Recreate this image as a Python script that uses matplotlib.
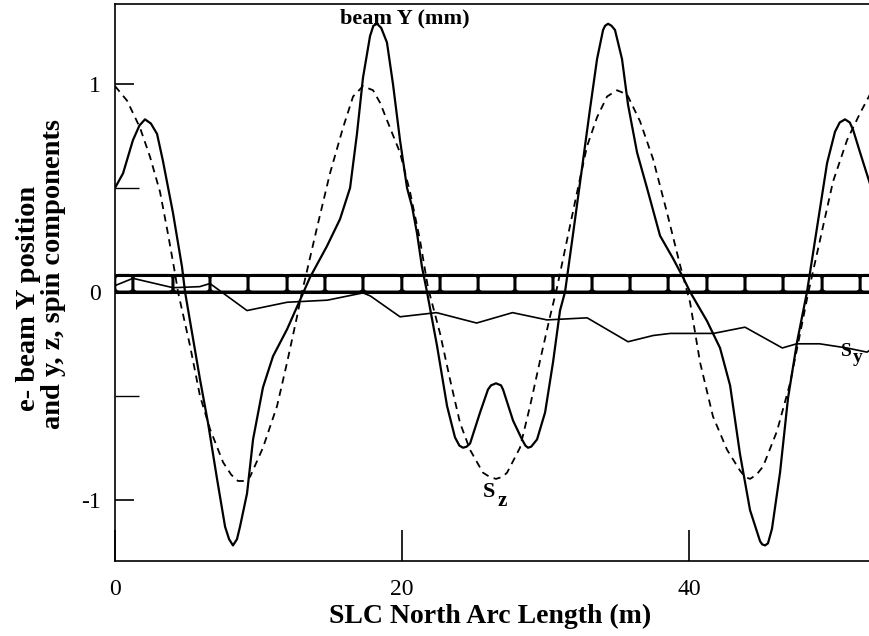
import matplotlib
matplotlib.use("Agg")
import matplotlib.pyplot as plt
from matplotlib.patches import FancyBboxPatch

plt.rcParams['font.family'] = ['Liberation Serif', 'DejaVu Serif']

# ---------------- data ----------------
beam_x = [0.0, 0.56, 1.25, 1.7, 2.09, 2.5, 2.93, 3.34, 4.04, 4.67, 4.88, 5.92, 6.48, 7.11,
          7.67, 7.95, 8.22, 8.5, 8.71, 9.20, 9.62, 10.31, 11.01, 11.99, 12.89, 13.59, 14.77,
          15.68, 16.38, 16.86, 17.28, 17.77, 18.0, 18.26, 18.55, 18.95, 19.37, 19.86, 20.35,
          20.70, 21.05, 21.39, 21.74, 22.44, 23.14, 23.69, 24.0, 24.25, 24.5, 24.74, 25.44,
          25.99, 26.2, 26.55, 26.9, 27.04, 27.74, 28.36, 28.6, 28.78, 29.0, 29.41, 29.97,
          30.52, 31.01, 31.36, 31.92, 32.61, 33.10, 33.59, 34.01, 34.15, 34.36, 34.6, 34.84,
          35.33, 35.75, 36.38, 37.07, 37.98, 38.89, 39.58, 40.07, 41.25, 42.16, 42.86,
          43.55, 44.25, 44.95, 45.1, 45.30, 45.5, 45.78, 46.34, 46.90, 47.53, 48.22, 48.92,
          49.62, 50.17, 50.5, 50.87, 51.2, 51.43, 51.92, 52.47, 52.61]
beam_y = [0.50, 0.57, 0.73, 0.80, 0.83, 0.81, 0.76, 0.63, 0.38, 0.12, 0.0, -0.42, -0.63, -0.90,
          -1.13, -1.19, -1.22, -1.19, -1.13, -0.97, -0.71, -0.46, -0.31, -0.18, -0.04, 0.07, 0.22,
          0.35, 0.50, 0.76, 1.03, 1.23, 1.28, 1.29, 1.27, 1.20, 1.00, 0.73, 0.50,
          0.41, 0.28, 0.12, 0.0, -0.26, -0.55, -0.70, -0.74, -0.75, -0.745, -0.73, -0.58,
          -0.47, -0.45, -0.44, -0.45, -0.47, -0.62, -0.71, -0.74, -0.75, -0.745, -0.71, -0.58,
          -0.34, -0.09, 0.0, 0.28, 0.63, 0.88, 1.12, 1.26, 1.28, 1.29, 1.28, 1.26,
          1.12, 0.90, 0.67, 0.50, 0.27, 0.16, 0.07, 0.0, -0.14, -0.27, -0.45,
          -0.78, -1.05, -1.20, -1.215, -1.22, -1.21, -1.14, -0.87, -0.51, -0.24, 0.0, 0.31,
          0.62, 0.77, 0.815, 0.83, 0.815, 0.78, 0.67, 0.55, 0.52]

sz_x = [0.0, 0.84, 1.74, 2.44, 3.14, 3.69, 4.18, 4.39, 5.23, 5.92, 6.62, 7.53, 8.1, 8.57, 9.0,
        9.41, 10.31, 11.29, 11.99, 12.68, 13.03, 13.24, 14.08, 14.98, 15.89, 16.59, 17.28,
        17.98, 18.47, 19.16, 19.86, 20.56, 21.25, 21.81, 22.65, 23.34, 24.04, 24.74, 25.64,
        26.1, 26.55, 27.0, 27.32, 28.22, 28.92, 29.62, 30.31, 30.80, 31.50, 32.20, 32.89,
        33.59, 34.29, 34.98, 35.68, 36.59, 37.49, 38.47, 39.37, 40.07, 40.77, 41.67, 42.65,
        43.55, 43.9, 44.25, 44.7, 45.16, 46.13, 47.04, 47.74, 48.29, 49.13, 50.03, 51.01,
        51.92, 52.61]
sz_y = [0.99, 0.92, 0.79, 0.65, 0.48, 0.28, 0.09, 0.0, -0.26, -0.50, -0.66, -0.82, -0.88,
        -0.91, -0.91, -0.89, -0.75, -0.55, -0.34, -0.12, 0.0, 0.06, 0.31, 0.57, 0.79, 0.94,
        0.99, 0.97, 0.91, 0.79, 0.67, 0.48, 0.25, 0.02, -0.20, -0.42, -0.63, -0.76, -0.87,
        -0.89, -0.90, -0.89, -0.87, -0.75, -0.55, -0.33, -0.12, 0.02, 0.25, 0.48, 0.70,
        0.84, 0.94, 0.97, 0.95, 0.82, 0.64, 0.38, 0.13, -0.05, -0.34, -0.60, -0.76,
        -0.86, -0.89, -0.90, -0.88, -0.84, -0.67, -0.44, -0.20, -0.01, 0.25, 0.53, 0.73,
        0.86, 0.95]

sy_x = [0.0, 1.25, 4.04, 5.9, 6.62, 9.20, 12.0, 14.8, 17.28, 17.8, 19.86, 22.4, 25.2, 27.7,
        30.1, 32.9, 35.75, 37.5, 38.7, 41.7, 43.9, 46.5, 47.5, 49.1, 51.0, 52.4, 52.61]
sy_y = [0.03, 0.065, 0.02, 0.025, 0.04, -0.09, -0.05, -0.04, -0.005, -0.02, -0.12, -0.10,
        -0.15, -0.10, -0.135, -0.125, -0.24, -0.21, -0.20, -0.20, -0.17, -0.27, -0.25,
        -0.25, -0.27, -0.29, -0.28]

magnet_edges = [0.0, 1.25, 4.04, 6.62, 9.27, 11.99, 14.63, 17.28, 19.99, 22.65, 25.3,
                27.87, 30.52, 33.24, 35.89, 38.54, 41.25, 43.9, 46.55, 49.27, 51.92, 54.6]
magnet_height = 0.08

x_ticks = [0, 20, 40]
y_ticks = [-1, 0, 1]
y_tick_labels = ['-1', '0', '1']
y_minor = [-0.5, 0.5]

# ---------------- figure ----------------
W, H = 870, 636
TOP, BOTTOM, LEFT = 4, 561, 115
fig = plt.figure(figsize=(W / 100, H / 100), dpi=100)
ax = fig.add_axes([LEFT / W, (H - BOTTOM) / H, 1 - LEFT / W, (BOTTOM - TOP) / H])
ax.set_xlim(0, 52.61)
ax.set_ylim(-1.295, 1.385)

ax.spines['right'].set_visible(False)
for s in ('left', 'top', 'bottom'):
    ax.spines[s].set_linewidth(1.2)

# magnet strip: rounded boxes between the magnet edges
ax.axhline(0, color='black', lw=2.2, zorder=2)
ax.axhline(magnet_height, color='black', lw=2.2, zorder=2)
for a, b in zip(magnet_edges[:-1], magnet_edges[1:]):
    box = FancyBboxPatch((a, 0.0), (b - a), magnet_height,
                         boxstyle="round,pad=0,rounding_size=0.3",
                         mutation_aspect=0.065, facecolor='none', edgecolor='black',
                         lw=1.9, zorder=2, clip_on=True)
    ax.add_patch(box)

# curves
ax.plot(beam_x, beam_y, color='black', lw=1.6, zorder=3, solid_joinstyle='round')
ax.plot(sz_x, sz_y, color='black', lw=1.3, dashes=(4.0, 3.0), zorder=3)
ax.plot(sy_x, sy_y, color='black', lw=1.2, zorder=3)

# ticks
ax.set_xticks(x_ticks)
ax.set_yticks(y_ticks)
ax.set_yticklabels(y_tick_labels)
ax.set_yticks(y_minor, minor=True)
ax.tick_params(axis='y', which='major', direction='in', length=14, width=1.2,
               labelsize=17, pad=10, right=False)
ax.tick_params(axis='y', which='minor', direction='in', length=17, width=1.0)
ax.tick_params(axis='x', which='major', direction='in', length=22, width=1.2,
               labelsize=17, pad=13, top=False)

# labels
fig.text(490 / W, 1 - 616 / H, 'SLC North Arc Length (m)', ha='center', va='center',
         fontsize=20, fontweight='bold')
fig.text(29 / W, 1 - 298 / H, 'e- beam Y position', rotation=90, ha='center', va='center',
         fontsize=20.5, fontweight='bold')
fig.text(54 / W, 1 - 274 / H, 'and y, z, spin components', rotation=90, ha='center',
         va='center', fontsize=20.5, fontweight='bold')

# annotations
ax.text(15.68, 1.317, 'beam Y (mm)', fontsize=16, fontweight='bold', ha='left', va='center')
ax.text(26.06, -0.965, 'S', fontsize=16, fontweight='bold', ha='center', va='center')
ax.text(26.97, -1.005, 'z', fontsize=15, fontweight='bold', ha='center', va='center')
ax.text(50.94, -0.285, 'S', fontsize=14, fontweight='bold', ha='center', va='center')
ax.text(51.74, -0.318, 'y', fontsize=14, fontweight='bold', ha='center', va='center')

fig.savefig('out.png', dpi=100)
